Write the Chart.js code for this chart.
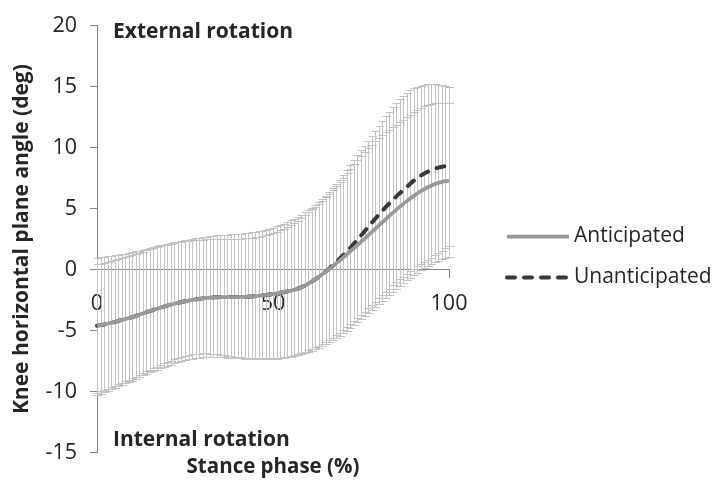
<!DOCTYPE html>
<html>
<head>
<meta charset="utf-8">
<script src="https://cdn.jsdelivr.net/npm/chart.js@4/dist/chart.umd.min.js"></script>
<style>
  html, body { margin: 0; padding: 0; background: #ffffff; }
  #wrap { width: 716px; height: 489px; }
</style>
</head>
<body>
<div id="wrap"><canvas id="chart" width="716" height="489"></canvas></div>
<script>
// Stance phase (% of stance), one sample per percent
const stancePhase = [
  0,1,2,3,4,5,6,7,8,9,10,11,12,13,14,15,16,17,18,19,20,21,22,23,24,25,26,27,28,29,
  30,31,32,33,34,35,36,37,38,39,40,41,42,43,44,45,46,47,48,49,50,51,52,53,54,55,56,57,58,59,
  60,61,62,63,64,65,66,67,68,69,70,71,72,73,74,75,76,77,78,79,80,81,82,83,84,85,86,87,88,89,
  90,91,92,93,94,95,96,97,98,99,100
];

// Mean knee horizontal plane angle (deg), anticipated cutting
const anticipatedMean = [
  -4.60,-4.55,-4.50,-4.44,-4.37,-4.30,-4.22,-4.14,-4.06,-3.98,
  -3.90,-3.80,-3.70,-3.60,-3.50,-3.40,-3.31,-3.22,-3.13,-3.04,
  -2.95,-2.87,-2.80,-2.73,-2.66,-2.60,-2.54,-2.49,-2.44,-2.40,
  -2.36,-2.33,-2.30,-2.28,-2.26,-2.25,-2.25,-2.25,-2.25,-2.25,
  -2.25,-2.24,-2.23,-2.22,-2.20,-2.18,-2.15,-2.12,-2.08,-2.04,
  -2.00,-1.95,-1.90,-1.85,-1.80,-1.74,-1.66,-1.57,-1.46,-1.32,
  -1.16,-0.99,-0.80,-0.60,-0.39,-0.17,0.05,0.28,0.52,0.76,
  1.01,1.26,1.51,1.76,2.01,2.27,2.53,2.80,3.07,3.33,
  3.60,3.87,4.13,4.39,4.65,4.90,5.15,5.39,5.62,5.84,
  6.05,6.25,6.44,6.61,6.76,6.90,7.02,7.12,7.20,7.26,
  7.30
];

// Mean knee horizontal plane angle (deg), unanticipated cutting
const unanticipatedMean = [
  -4.60,-4.55,-4.50,-4.44,-4.37,-4.30,-4.22,-4.14,-4.06,-3.98,
  -3.90,-3.80,-3.70,-3.60,-3.50,-3.40,-3.31,-3.22,-3.13,-3.04,
  -2.95,-2.87,-2.80,-2.73,-2.66,-2.60,-2.54,-2.49,-2.44,-2.40,
  -2.36,-2.33,-2.30,-2.28,-2.26,-2.25,-2.25,-2.25,-2.25,-2.25,
  -2.25,-2.24,-2.23,-2.22,-2.20,-2.18,-2.15,-2.12,-2.08,-2.04,
  -2.00,-1.95,-1.90,-1.85,-1.80,-1.74,-1.66,-1.57,-1.46,-1.32,
  -1.16,-0.99,-0.80,-0.60,-0.38,-0.15,0.10,0.36,0.63,0.91,
  1.20,1.50,1.81,2.13,2.46,2.80,3.14,3.48,3.82,4.16,
  4.49,4.81,5.12,5.42,5.71,5.99,6.26,6.52,6.78,7.05,
  7.30,7.52,7.72,7.89,8.04,8.17,8.28,8.37,8.44,8.50,
  8.54
];

// Error bar ends (mean + SD / mean - SD), anticipated
const anticipatedHigh = [
  0.43,0.50,0.57,0.65,0.73,0.81,0.89,0.97,1.05,1.13,
  1.21,1.30,1.39,1.48,1.57,1.66,1.75,1.83,1.91,1.98,
  2.05,2.11,2.17,2.23,2.28,2.33,2.37,2.40,2.43,2.45,
  2.47,2.48,2.49,2.50,2.50,2.51,2.51,2.52,2.52,2.53,
  2.54,2.55,2.57,2.59,2.62,2.66,2.71,2.77,2.84,2.92,
  3.01,3.11,3.22,3.35,3.49,3.65,3.83,4.03,4.25,4.48,
  4.72,4.95,5.17,5.41,5.66,5.93,6.22,6.53,6.86,7.20,
  7.55,7.91,8.27,8.63,8.98,9.32,9.65,9.96,10.26,10.54,
  10.80,11.04,11.27,11.49,11.70,11.90,12.10,12.30,12.50,12.70,
  12.90,13.08,13.25,13.40,13.52,13.61,13.67,13.70,13.71,13.71,
  13.70
];
const anticipatedLow = [
  -10.30,-10.18,-10.06,-9.94,-9.82,-9.70,-9.58,-9.46,-9.34,-9.22,
  -9.10,-8.96,-8.82,-8.68,-8.54,-8.40,-8.30,-8.20,-8.10,-8.00,
  -7.90,-7.80,-7.70,-7.61,-7.52,-7.44,-7.37,-7.31,-7.26,-7.22,
  -7.19,-7.17,-7.16,-7.16,-7.17,-7.18,-7.20,-7.22,-7.24,-7.26,
  -7.28,-7.29,-7.30,-7.31,-7.32,-7.32,-7.33,-7.33,-7.33,-7.33,
  -7.32,-7.30,-7.28,-7.25,-7.21,-7.16,-7.10,-7.03,-6.95,-6.86,
  -6.76,-6.65,-6.53,-6.40,-6.26,-6.11,-5.95,-5.78,-5.60,-5.41,
  -5.21,-5.00,-4.78,-4.55,-4.31,-4.07,-3.83,-3.58,-3.33,-3.08,
  -2.83,-2.58,-2.33,-2.08,-1.83,-1.58,-1.34,-1.11,-0.89,-0.66,
  -0.44,-0.24,-0.06,0.11,0.28,0.44,0.59,0.72,0.84,0.95,
  1.06
];

// Error bar ends (mean + SD / mean - SD), unanticipated
const unanticipatedHigh = [
  0.98,1.02,1.06,1.10,1.14,1.18,1.22,1.26,1.31,1.36,
  1.42,1.49,1.56,1.63,1.70,1.77,1.84,1.91,1.98,2.05,
  2.11,2.17,2.23,2.29,2.35,2.41,2.47,2.52,2.57,2.62,
  2.66,2.70,2.74,2.77,2.80,2.83,2.86,2.88,2.90,2.92,
  2.94,2.96,2.98,3.01,3.05,3.09,3.14,3.20,3.27,3.35,
  3.44,3.54,3.65,3.77,3.90,4.04,4.19,4.35,4.52,4.70,
  4.89,5.09,5.30,5.53,5.78,6.05,6.34,6.66,7.00,7.38,
  7.78,8.18,8.58,8.98,9.38,9.78,10.18,10.58,10.98,11.38,
  11.78,12.18,12.58,12.97,13.34,13.68,14.00,14.28,14.52,14.72,
  14.88,15.00,15.10,15.17,15.21,15.23,15.22,15.19,15.14,15.07,
  15.00
];
const unanticipatedLow = [
  -10.12,-10.00,-9.88,-9.76,-9.64,-9.52,-9.40,-9.28,-9.16,-9.04,
  -8.92,-8.78,-8.64,-8.50,-8.36,-8.22,-8.09,-7.96,-7.83,-7.70,
  -7.58,-7.46,-7.35,-7.25,-7.16,-7.08,-7.01,-6.96,-6.92,-6.89,
  -6.88,-6.88,-6.89,-6.91,-6.94,-6.98,-7.02,-7.06,-7.10,-7.14,
  -7.17,-7.20,-7.22,-7.24,-7.26,-7.27,-7.28,-7.29,-7.29,-7.29,
  -7.28,-7.26,-7.23,-7.19,-7.14,-7.08,-7.01,-6.93,-6.84,-6.74,
  -6.63,-6.51,-6.38,-6.24,-6.09,-5.93,-5.76,-5.58,-5.39,-5.18,
  -4.95,-4.72,-4.48,-4.23,-3.97,-3.71,-3.44,-3.17,-2.90,-2.62,
  -2.35,-2.08,-1.81,-1.55,-1.30,-1.05,-0.80,-0.57,-0.35,-0.14,
  0.06,0.26,0.45,0.62,0.80,0.98,1.16,1.35,1.55,1.75,
  1.95
];

// Axis range and tick labels
const yTicks = [-15, -10, -5, 0, 5, 10, 15, 20];
const xTickLabels = [0, 50, 100];

const FONT = '"Open Sans", "Noto Sans", sans-serif';
const TEXT = '#262626';
const AXIS = '#868686';
const BAR = '#c2c2c2';

// Vertical SD bars with end caps, drawn underneath the mean curves
const errorBarPlugin = {
  id: 'errorBars',
  beforeDatasetsDraw(chart) {
    const { ctx, scales: { x, y } } = chart;
    ctx.save();
    ctx.strokeStyle = BAR;
    ctx.lineWidth = 1;
    chart.data.datasets.forEach(ds => {
      const hi = ds.errorHigh, lo = ds.errorLow;
      ctx.beginPath();
      for (let i = 0; i < ds.data.length; i++) {
        const px = Math.round(x.getPixelForValue(i)) + 0.5;
        const yh = Math.round(y.getPixelForValue(hi[i])) + 0.5;
        const yl = Math.round(y.getPixelForValue(lo[i])) + 0.5;
        ctx.moveTo(px, yl); ctx.lineTo(px, yh);
        ctx.moveTo(px - 4, yh); ctx.lineTo(px + 4.5, yh);
        ctx.moveTo(px - 4, yl); ctx.lineTo(px + 4.5, yl);
      }
      ctx.stroke();
    });
    ctx.restore();
  }
};

// Region captions and the line legend beside the plot
const captionPlugin = {
  id: 'captions',
  afterDraw(chart) {
    const { ctx, scales: { x, y } } = chart;
    ctx.save();
    ctx.fillStyle = TEXT;
    ctx.textBaseline = 'middle';
    ctx.textAlign = 'left';
    ctx.font = 'bold 21px ' + FONT;
    const left = x.getPixelForValue(0) + 16;
    ctx.fillText('External rotation', left, y.getPixelForValue(19.5));
    ctx.fillText('Internal rotation', left, y.getPixelForValue(-14.0));

    // legend
    const lx = 505, lw = 64;
    const rows = [y.getPixelForValue(2.75), y.getPixelForValue(-0.6)];
    chart.data.datasets.forEach((ds, k) => {
      const ly = Math.round(rows[k]) + 0.5;
      ctx.save();
      ctx.strokeStyle = ds.borderColor;
      ctx.lineWidth = ds.borderWidth;
      ctx.lineCap = ds.borderCapStyle || 'butt';
      ctx.setLineDash(ds.borderDash || []);
      ctx.beginPath();
      ctx.moveTo(lx + 2, ly);
      ctx.lineTo(lx + lw, ly);
      ctx.stroke();
      ctx.restore();
      ctx.font = '21px ' + FONT;
      ctx.fillStyle = TEXT;
      ctx.fillText(ds.label, lx + lw + 5, ly);
    });
    ctx.restore();
  }
};

new Chart(document.getElementById('chart'), {
  type: 'line',
  data: {
    labels: stancePhase,
    datasets: [
      {
        label: 'Anticipated',
        data: anticipatedMean,
        errorHigh: anticipatedHigh,
        errorLow: anticipatedLow,
        borderColor: '#999999',
        borderWidth: 3.75,
        borderCapStyle: 'butt',
        pointRadius: 0,
        tension: 0.3,
        fill: false
      },
      {
        label: 'Unanticipated',
        data: unanticipatedMean,
        errorHigh: unanticipatedHigh,
        errorLow: unanticipatedLow,
        borderColor: '#383838',
        borderWidth: 4,
        borderDash: [8, 9],
        borderCapStyle: 'round',
        pointRadius: 0,
        tension: 0.3,
        fill: false
      }
    ]
  },
  options: {
    responsive: false,
    animation: false,
    events: [],
    layout: { padding: { left: 0, top: 22, right: 267, bottom: 10 } },
    plugins: {
      legend: { display: false },
      tooltip: { enabled: false },
      title: {
        display: true,
        position: 'bottom',
        fullSize: false,
        text: 'Stance phase (%)',
        color: TEXT,
        font: { family: FONT, size: 20.5, weight: 'bold', lineHeight: 1.2 },
        padding: { top: 2, bottom: 0 }
      }
    },
    scales: {
      x: {
        type: 'category',
        position: { y: 0 },
        grid: {
          display: true,
          drawOnChartArea: false,
          drawTicks: true,
          tickLength: 8,
          color: c => (c.tick && c.tick.value === 50 ? 'rgba(0,0,0,0)' : AXIS)
        },
        border: { display: true, color: AXIS, width: 1 },
        ticks: {
          autoSkip: false,
          maxRotation: 0,
          padding: 13,
          color: TEXT,
          font: { family: FONT, size: 21.5 },
          callback: (v, i) => (xTickLabels.includes(stancePhase[i]) ? String(stancePhase[i]) : null)
        }
      },
      y: {
        min: yTicks[0],
        max: yTicks[yTicks.length - 1],
        afterBuildTicks: s => { s.ticks = yTicks.map(v => ({ value: v })); },
        afterFit: s => { s.width = 97; },
        grid: { display: true, drawOnChartArea: false, drawTicks: true, tickLength: 7, color: AXIS },
        border: { display: true, color: AXIS, width: 1 },
        ticks: {
          padding: 13,
          color: TEXT,
          font: { family: FONT, size: 21.5 }
        },
        title: {
          display: true,
          text: 'Knee horizontal plane angle (deg)',
          color: TEXT,
          font: { family: FONT, size: 21, weight: 'bold', lineHeight: 1.2 },
          padding: { top: 9, bottom: 0 }
        }
      }
    }
  },
  plugins: [errorBarPlugin, captionPlugin]
});
</script>
</body>
</html>
